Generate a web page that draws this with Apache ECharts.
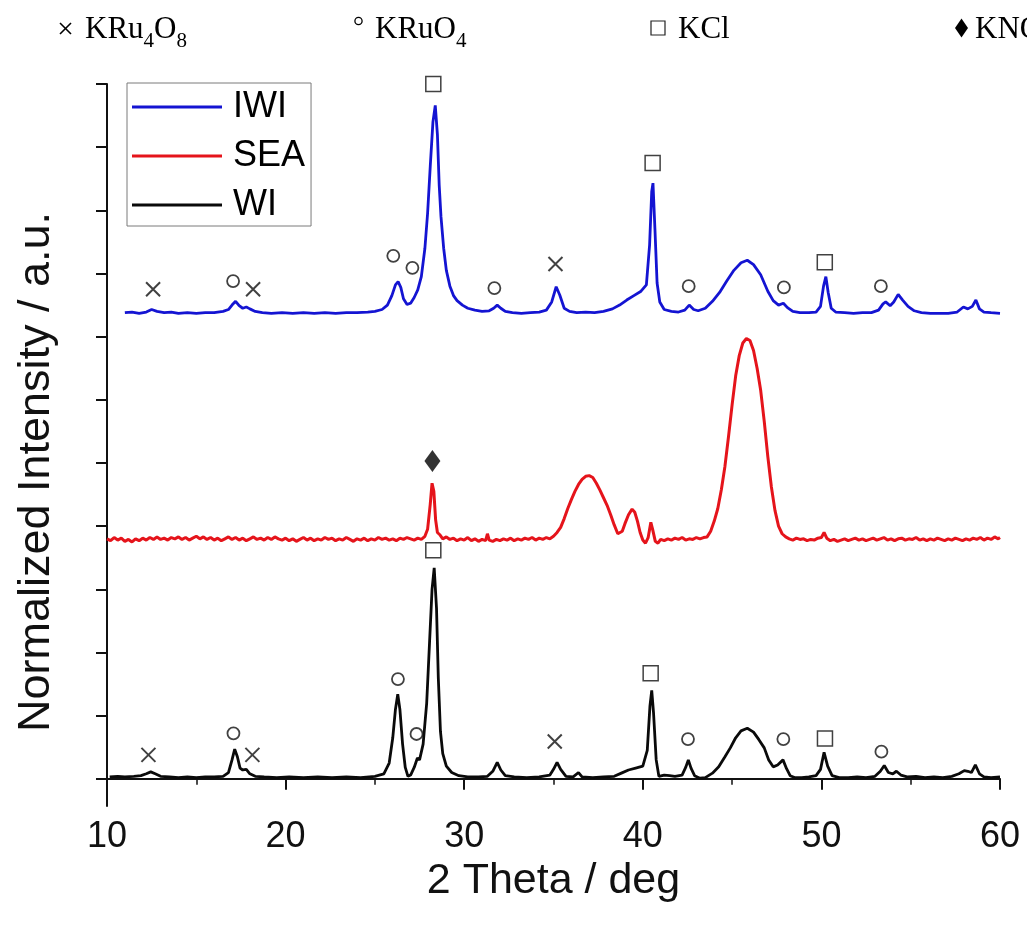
<!DOCTYPE html>
<html>
<head>
<meta charset="utf-8">
<title>XRD patterns</title>
<script src="https://cdn.jsdelivr.net/npm/echarts@6/dist/echarts.min.js"></script>
<style>
  html, body { margin: 0; padding: 0; background: #fff; }
  #chart { width: 1027px; height: 939px; }
</style>
</head>
<body>
<div id="chart"></div>
<script>
// 2-theta range and tick labels
const thetaTicks = [10, 20, 30, 40, 50, 60];
const offsetTicks = [0, 1, 2, 3, 4, 5, 6, 7, 8, 9, 10, 11];
const seriesNames = ['IWI', 'SEA', 'WI'];

// IWI pattern (offset upward)
const iwiTrace = [
  [11.0,7.38],[11.4,7.39],[11.8,7.37],[12.2,7.39],[12.5,7.43],[12.8,7.40],[13.2,7.38],[13.6,7.39],
  [14.0,7.37],[14.5,7.38],[15.0,7.37],[15.5,7.38],[16.0,7.38],[16.5,7.40],[16.8,7.43],[17.0,7.50],
  [17.2,7.56],[17.4,7.49],[17.6,7.45],[17.8,7.47],[18.0,7.44],[18.3,7.40],[18.7,7.38],[19.2,7.37],
  [19.8,7.38],[20.4,7.37],[21.0,7.38],[21.6,7.37],[22.2,7.38],[22.8,7.37],[23.4,7.38],[24.0,7.38],
  [24.6,7.39],[25.0,7.40],[25.4,7.43],[25.7,7.50],[25.95,7.65],[26.15,7.82],[26.3,7.87],[26.45,7.78],
  [26.6,7.60],[26.8,7.51],[27.0,7.53],[27.2,7.62],[27.4,7.74],[27.6,7.95],[27.8,8.40],[27.95,8.95],
  [28.1,9.70],[28.25,10.40],[28.38,10.66],[28.5,10.20],[28.6,9.40],[28.7,8.90],[28.85,8.40],[29.0,8.05],
  [29.2,7.80],[29.4,7.65],[29.6,7.57],[29.9,7.50],[30.2,7.45],[30.6,7.42],[31.0,7.40],[31.4,7.41],
  [31.65,7.45],[31.85,7.50],[32.05,7.45],[32.3,7.40],[32.7,7.38],[33.2,7.37],[33.7,7.38],[34.2,7.39],
  [34.6,7.42],[34.9,7.55],[35.15,7.79],[35.35,7.66],[35.6,7.45],[35.9,7.40],[36.3,7.38],[36.8,7.39],
  [37.3,7.38],[37.8,7.40],[38.3,7.44],[38.7,7.50],[39.1,7.58],[39.5,7.65],[39.9,7.72],[40.2,7.82],
  [40.38,8.45],[40.5,9.30],[40.57,9.43],[40.68,8.70],[40.8,7.85],[40.95,7.55],[41.2,7.43],[41.6,7.40],
  [42.0,7.39],[42.35,7.42],[42.6,7.50],[42.85,7.43],[43.1,7.41],[43.5,7.45],[43.9,7.56],[44.3,7.70],
  [44.7,7.88],[45.1,8.05],[45.5,8.17],[45.85,8.21],[46.2,8.14],[46.6,7.98],[47.0,7.72],[47.3,7.57],
  [47.6,7.50],[47.87,7.53],[48.1,7.46],[48.4,7.40],[48.8,7.38],[49.3,7.38],[49.7,7.39],[49.95,7.48],
  [50.12,7.80],[50.25,7.95],[50.38,7.70],[50.55,7.45],[50.8,7.39],[51.3,7.38],[51.8,7.37],[52.3,7.38],
  [52.8,7.38],[53.2,7.42],[53.45,7.52],[53.6,7.55],[53.85,7.49],[54.05,7.55],[54.3,7.67],[54.55,7.58],
  [54.85,7.48],[55.2,7.41],[55.6,7.38],[56.1,7.37],[56.6,7.37],[57.1,7.37],[57.6,7.39],[57.95,7.47],
  [58.2,7.44],[58.45,7.48],[58.65,7.58],[58.85,7.44],[59.1,7.39],[59.5,7.38],[60.0,7.37]
];

// SEA pattern (middle, noisy baseline)
const seaTrace = [
  [10.0,3.80],[10.2,3.77],[10.4,3.82],[10.6,3.78],[10.8,3.81],[11.0,3.76],[11.2,3.79],[11.4,3.75],
  [11.6,3.80],[11.8,3.77],[12.0,3.81],[12.2,3.78],[12.4,3.82],[12.6,3.79],[12.8,3.83],[13.0,3.79],
  [13.2,3.81],[13.4,3.78],[13.6,3.82],[13.8,3.80],[14.0,3.83],[14.2,3.79],[14.4,3.82],[14.6,3.78],
  [14.8,3.81],[15.0,3.84],[15.2,3.80],[15.4,3.83],[15.6,3.79],[15.8,3.82],[16.0,3.78],[16.2,3.81],
  [16.4,3.77],[16.6,3.80],[16.8,3.83],[17.0,3.79],[17.2,3.82],[17.4,3.78],[17.6,3.81],[17.8,3.77],
  [18.0,3.80],[18.2,3.83],[18.4,3.79],[18.6,3.81],[18.8,3.78],[19.0,3.82],[19.2,3.79],[19.4,3.83],
  [19.6,3.80],[19.8,3.78],[20.0,3.81],[20.2,3.77],[20.4,3.80],[20.6,3.76],[20.8,3.79],[21.0,3.82],
  [21.2,3.78],[21.4,3.81],[21.6,3.77],[21.8,3.80],[22.0,3.78],[22.2,3.82],[22.4,3.79],[22.6,3.81],
  [22.8,3.77],[23.0,3.80],[23.2,3.78],[23.4,3.82],[23.6,3.79],[23.8,3.76],[24.0,3.80],[24.2,3.78],
  [24.4,3.81],[24.6,3.77],[24.8,3.80],[25.0,3.78],[25.2,3.82],[25.4,3.79],[25.6,3.81],[25.8,3.78],
  [26.0,3.80],[26.2,3.77],[26.4,3.81],[26.6,3.79],[26.8,3.82],[27.0,3.80],[27.2,3.78],[27.4,3.81],
  [27.6,3.79],[27.8,3.84],[27.95,3.95],[28.1,4.35],[28.2,4.68],[28.3,4.55],[28.4,4.10],[28.5,3.90],
  [28.65,3.86],[28.8,3.80],[29.0,3.83],[29.2,3.79],[29.4,3.81],[29.6,3.77],[29.8,3.80],[30.0,3.78],
  [30.2,3.82],[30.4,3.77],[30.6,3.80],[30.8,3.76],[31.0,3.79],[31.2,3.77],[31.3,3.88],[31.4,3.78],
  [31.6,3.76],[31.8,3.79],[32.0,3.77],[32.2,3.80],[32.4,3.78],[32.6,3.81],[32.8,3.77],[33.0,3.80],
  [33.2,3.78],[33.4,3.81],[33.6,3.79],[33.8,3.82],[34.0,3.78],[34.2,3.81],[34.4,3.79],[34.6,3.82],
  [34.8,3.80],[35.0,3.84],[35.2,3.90],[35.4,3.98],[35.6,4.12],[35.8,4.28],[36.0,4.42],[36.2,4.55],
  [36.4,4.66],[36.6,4.74],[36.8,4.79],[37.0,4.80],[37.2,4.77],[37.4,4.68],[37.6,4.57],[37.8,4.45],
  [38.0,4.33],[38.2,4.18],[38.4,4.02],[38.6,3.88],[38.7,3.85],[38.85,3.92],[39.0,4.04],[39.2,4.18],
  [39.4,4.27],[39.55,4.22],[39.7,4.08],[39.85,3.90],[40.0,3.78],[40.15,3.73],[40.3,3.82],[40.45,4.06],
  [40.55,3.95],[40.7,3.76],[40.85,3.73],[41.0,3.79],[41.2,3.77],[41.4,3.80],[41.6,3.78],[41.8,3.81],
  [42.0,3.79],[42.2,3.82],[42.4,3.78],[42.6,3.80],[42.8,3.79],[43.0,3.82],[43.2,3.80],[43.4,3.82],
  [43.6,3.83],[43.8,3.92],[44.0,4.08],[44.2,4.28],[44.4,4.58],[44.6,4.95],[44.8,5.42],[45.0,5.92],
  [45.2,6.38],[45.4,6.70],[45.6,6.90],[45.8,6.97],[46.0,6.94],[46.2,6.78],[46.4,6.50],[46.6,6.15],
  [46.8,5.66],[47.0,5.10],[47.2,4.62],[47.4,4.25],[47.6,4.00],[47.8,3.88],[48.0,3.83],[48.2,3.80],
  [48.4,3.78],[48.6,3.81],[48.8,3.79],[49.0,3.80],[49.2,3.77],[49.4,3.79],[49.6,3.78],[49.8,3.81],
  [50.0,3.82],[50.15,3.90],[50.3,3.81],[50.5,3.77],[50.7,3.79],[50.9,3.76],[51.1,3.78],[51.3,3.80],
  [51.5,3.77],[51.7,3.79],[51.9,3.81],[52.1,3.78],[52.3,3.80],[52.5,3.77],[52.7,3.79],[52.9,3.81],
  [53.1,3.78],[53.3,3.80],[53.5,3.82],[53.7,3.78],[53.9,3.80],[54.1,3.77],[54.3,3.80],[54.5,3.81],
  [54.7,3.78],[54.9,3.80],[55.1,3.79],[55.3,3.82],[55.5,3.78],[55.7,3.80],[55.9,3.77],[56.1,3.80],
  [56.3,3.78],[56.5,3.81],[56.7,3.79],[56.9,3.77],[57.1,3.80],[57.3,3.78],[57.5,3.81],[57.7,3.79],
  [57.9,3.77],[58.1,3.80],[58.3,3.78],[58.5,3.81],[58.7,3.79],[58.9,3.82],[59.1,3.78],[59.3,3.81],
  [59.5,3.79],[59.7,3.83],[59.9,3.80],[60.0,3.82]
];

// WI pattern (bottom)
const wiTrace = [
  [10.15,0.03],[10.6,0.04],[11.0,0.03],[11.5,0.04],[11.9,0.05],[12.2,0.08],[12.45,0.11],[12.7,0.08],
  [13.0,0.04],[13.5,0.03],[14.0,0.02],[14.5,0.03],[15.0,0.02],[15.5,0.03],[16.0,0.03],[16.5,0.04],
  [16.8,0.10],[17.0,0.30],[17.15,0.47],[17.3,0.35],[17.45,0.17],[17.6,0.14],[17.8,0.15],[18.0,0.08],
  [18.3,0.04],[18.8,0.03],[19.5,0.02],[20.2,0.03],[21.0,0.02],[21.8,0.03],[22.6,0.02],[23.4,0.03],
  [24.2,0.02],[25.0,0.04],[25.5,0.08],[25.8,0.25],[26.0,0.65],[26.15,1.10],[26.28,1.34],[26.4,1.10],
  [26.55,0.55],[26.7,0.18],[26.85,0.04],[27.0,0.06],[27.2,0.18],[27.38,0.33],[27.5,0.30],[27.7,0.55],
  [27.9,1.20],[28.05,2.10],[28.2,3.00],[28.32,3.34],[28.45,2.70],[28.55,1.60],[28.67,0.75],[28.8,0.40],
  [29.0,0.20],[29.3,0.10],[29.7,0.05],[30.2,0.03],[30.8,0.03],[31.3,0.04],[31.6,0.12],[31.85,0.26],
  [32.05,0.14],[32.3,0.05],[32.8,0.03],[33.5,0.02],[34.2,0.03],[34.8,0.06],[35.0,0.15],[35.2,0.26],
  [35.4,0.15],[35.7,0.04],[36.1,0.03],[36.4,0.10],[36.6,0.03],[37.2,0.02],[37.8,0.03],[38.4,0.04],
  [38.8,0.09],[39.2,0.14],[39.6,0.17],[40.0,0.20],[40.25,0.45],[40.4,1.15],[40.5,1.40],[40.6,1.05],
  [40.75,0.30],[40.9,0.04],[41.2,0.06],[41.5,0.05],[41.8,0.04],[42.2,0.06],[42.4,0.18],[42.55,0.30],
  [42.7,0.17],[42.9,0.05],[43.2,0.01],[43.5,0.02],[43.9,0.09],[44.25,0.19],[44.6,0.35],[44.9,0.49],
  [45.2,0.65],[45.5,0.76],[45.85,0.80],[46.2,0.74],[46.5,0.62],[46.8,0.49],[47.05,0.30],[47.3,0.19],
  [47.55,0.22],[47.85,0.30],[48.05,0.16],[48.25,0.05],[48.5,0.02],[48.9,0.02],[49.3,0.03],[49.7,0.05],
  [49.95,0.15],[50.15,0.42],[50.35,0.20],[50.6,0.05],[51.0,0.02],[51.5,0.02],[52.0,0.03],[52.5,0.02],
  [53.0,0.04],[53.3,0.12],[53.52,0.21],[53.75,0.10],[54.0,0.08],[54.2,0.12],[54.45,0.06],[54.8,0.03],
  [55.3,0.04],[55.8,0.02],[56.3,0.03],[56.8,0.02],[57.3,0.04],[57.7,0.08],[58.0,0.13],[58.2,0.12],
  [58.4,0.10],[58.62,0.22],[58.85,0.08],[59.1,0.03],[59.5,0.02],[60.0,0.03]
];

// Phase markers placed above the reflections
const kru4o8Marks = [[12.58,7.75],[18.18,7.75],[35.11,8.15],[12.32,0.38],[18.14,0.38],[35.07,0.59]];
const kruo4Marks = [[17.06,7.88],[26.03,8.28],[27.10,8.09],[31.69,7.77],[42.57,7.80],[47.90,7.78],[53.33,7.80],
                    [17.08,0.72],[26.29,1.58],[27.33,0.71],[42.53,0.63],[47.87,0.63],[53.36,0.43]];
const kclMarks = [[28.27,11.0],[40.55,9.75],[50.19,8.18],[28.27,3.62],[40.44,1.67],[50.20,0.64]];
const kno3Marks = [[28.22,5.03]];

// Phase key along the top edge
const phaseFormulas = ['KRu{s|4}O{s|8}', 'KRuO{s|4}', 'KCl', 'KNO{s|3}'];

const lineColors = { IWI: '#1414d2', SEA: '#e5141b', WI: '#0a0a0a' };
const sansFont = '"Liberation Sans", Arial, sans-serif';
const serifFont = '"Liberation Serif", "Times New Roman", serif';

const chart = echarts.init(document.getElementById('chart'), null, { renderer: 'canvas' });

function traceSeries(name, data, width) {
  return {
    name: name,
    type: 'line',
    data: data,
    showSymbol: false,
    symbol: 'none',
    lineStyle: { color: lineColors[name], width: width },
    itemStyle: { color: lineColors[name] },
    silent: true,
    z: 2
  };
}

function markSeries(name, data, symbol, size, filled, stroke) {
  return {
    name: name,
    type: 'scatter',
    data: data,
    symbol: symbol,
    symbolSize: size,
    silent: true,
    itemStyle: filled
      ? { color: '#000', borderWidth: 0 }
      : { color: 'rgba(0,0,0,0)', borderColor: '#111', borderWidth: stroke },
    z: 5
  };
}

const keyRich = {
  n: { fontFamily: serifFont, fontSize: 31, color: '#000', lineHeight: 40, verticalAlign: 'top' },
  s: { fontFamily: serifFont, fontSize: 21, color: '#000', lineHeight: 22, padding: [17, 0, 0, 0], verticalAlign: 'top' }
};
const keyTextX = [85, 375, 678, 975];

const keyGraphics = phaseFormulas.map(function (f, i) {
  return {
    type: 'text',
    left: keyTextX[i],
    top: 14,
    silent: true,
    style: { text: '{n|' + f.replace(/\{s\|(\d)\}/g, '}{s|$1}{n|') + '}', rich: keyRich }
  };
}).concat([
  { type: 'group', silent: true, children: [
    { type: 'line', shape: { x1: 60, y1: 23, x2: 71, y2: 34 }, style: { stroke: '#000', lineWidth: 1.6 } },
    { type: 'line', shape: { x1: 71, y1: 23, x2: 60, y2: 34 }, style: { stroke: '#000', lineWidth: 1.6 } },
    { type: 'circle', shape: { cx: 358.5, cy: 21, r: 3.6 }, style: { fill: 'none', stroke: '#000', lineWidth: 1.3 } },
    { type: 'rect', shape: { x: 651, y: 21, width: 14, height: 14 }, style: { fill: 'none', stroke: '#222', lineWidth: 1.2 } },
    { type: 'polygon', shape: { points: [[961.5, 18.5], [968, 28], [961.5, 37.5], [955, 28]] }, style: { fill: '#000' } }
  ] }
]);

chart.setOption({
  animation: false,
  backgroundColor: '#fff',
  grid: { left: 107, right: 27, top: 84, bottom: 133, containLabel: false },
  legend: {
    data: seriesNames,
    orient: 'vertical',
    left: 127,
    top: 83,
    padding: [6, 6, 3, 5],
    itemGap: 13,
    itemWidth: 90,
    itemHeight: 3,
    icon: 'rect',
    borderColor: '#7a7a7a',
    borderWidth: 1,
    textStyle: { fontFamily: sansFont, fontSize: 36, lineHeight: 35, color: '#000', padding: [0, 0, 0, 6] }
  },
  graphic: keyGraphics,
  xAxis: {
    type: 'value',
    min: thetaTicks[0],
    max: thetaTicks[thetaTicks.length - 1],
    interval: 10,
    name: '2 Theta / deg',
    nameLocation: 'middle',
    nameGap: 50,
    nameTextStyle: { fontFamily: sansFont, fontSize: 43, color: '#111' },
    axisLine: { lineStyle: { color: '#111', width: 2 } },
    axisTick: { show: true, inside: false, length: 11, lineStyle: { color: '#111', width: 2 } },
    minorTick: { show: true, splitNumber: 2, length: 6, lineStyle: { color: '#111', width: 1.5 } },
    axisLabel: { fontFamily: sansFont, fontSize: 36, color: '#111', margin: 13 },
    splitLine: { show: false }
  },
  yAxis: {
    type: 'value',
    min: -0.43,
    max: offsetTicks[offsetTicks.length - 1],
    name: 'Normalized Intensity / a.u.',
    nameLocation: 'middle',
    nameGap: 48,
    nameRotate: 90,
    nameTextStyle: { fontFamily: sansFont, fontSize: 45, color: '#111', padding: [0, 54, 0, 0] },
    axisLine: { show: true, lineStyle: { color: '#111', width: 2 } },
    axisTick: { show: true, inside: false, length: 11, customValues: offsetTicks, lineStyle: { color: '#111', width: 2 } },
    axisLabel: { show: false },
    splitLine: { show: false }
  },
  series: [
    traceSeries('IWI', iwiTrace, 2.8),
    traceSeries('SEA', seaTrace, 3),
    traceSeries('WI', wiTrace, 2.8),
    markSeries('KRu4O8', kru4o8Marks, 'path://M0,0L10,10M10,0L0,10', 14, false, 2),
    markSeries('KRuO4', kruo4Marks, 'circle', 12, false, 1.8),
    markSeries('KCl', kclMarks, 'rect', 15, false, 1.5),
    markSeries('KNO3', kno3Marks, 'diamond', [16, 22], true, 0)
  ]
});
</script>
</body>
</html>
